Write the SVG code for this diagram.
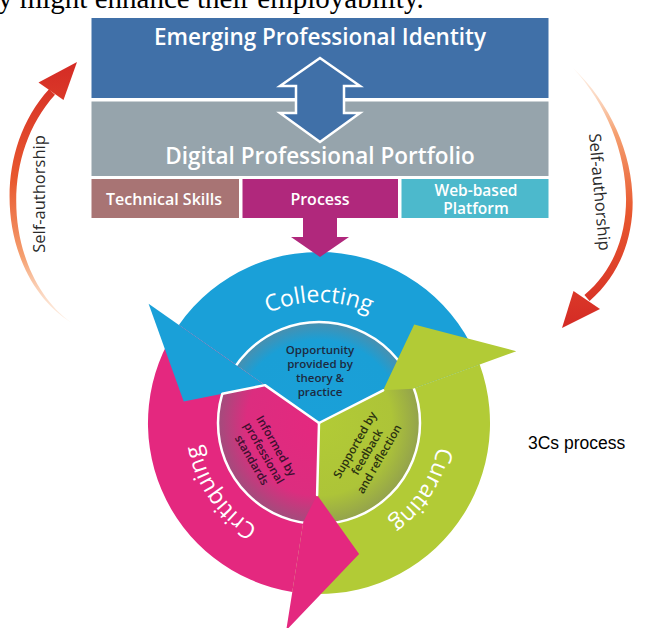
<svg xmlns="http://www.w3.org/2000/svg" width="657" height="628" viewBox="0 0 657 628">
<defs>
<style>
.hdr{font-family:"Open Sans","Noto Sans","DejaVu Sans",sans-serif;fill:#fff;text-anchor:middle}
.big{font-size:22.5px;font-weight:600}
.sub{font-size:16px;font-weight:600}
.sub2{font-size:15.5px;font-weight:600}
.ring{font-family:"Open Sans","Noto Sans",sans-serif;font-size:23px;fill:#fff}
.inner{font-family:"Open Sans","Noto Sans",sans-serif;font-size:11.5px;font-weight:600;text-anchor:middle}
.side{font-family:"Open Sans","Noto Sans",sans-serif;font-size:16.5px;fill:#2a2a2a;text-anchor:middle}
.div{fill:none;stroke:#fff;stroke-width:2.5;stroke-linejoin:round;stroke-linecap:round}
</style>
<radialGradient id="gBlue" gradientUnits="userSpaceOnUse" cx="319" cy="423" r="101">
<stop offset="0" stop-color="#1aa0d8"/><stop offset="0.82" stop-color="#1a9fd6"/><stop offset="1" stop-color="#4a8fae"/>
</radialGradient>
<radialGradient id="gPink" gradientUnits="userSpaceOnUse" cx="319" cy="423" r="101">
<stop offset="0" stop-color="#e4287f"/><stop offset="0.72" stop-color="#dc2d7f"/><stop offset="1" stop-color="#a24c7c"/>
</radialGradient>
<radialGradient id="gGreen" gradientUnits="userSpaceOnUse" cx="319" cy="423" r="101">
<stop offset="0" stop-color="#b2cb36"/><stop offset="0.72" stop-color="#adc438"/><stop offset="1" stop-color="#93a24c"/>
</radialGradient>
<linearGradient id="gL" gradientUnits="userSpaceOnUse" x1="0" y1="323" x2="0" y2="62">
<stop offset="0" stop-color="#fbd9bf" stop-opacity="0.35"/><stop offset="0.25" stop-color="#f5a070"/><stop offset="0.55" stop-color="#e8582f"/><stop offset="1" stop-color="#d42a25"/>
</linearGradient>
<linearGradient id="gR" gradientUnits="userSpaceOnUse" x1="0" y1="68" x2="0" y2="328">
<stop offset="0" stop-color="#fbd9bf" stop-opacity="0.35"/><stop offset="0.25" stop-color="#f5a070"/><stop offset="0.55" stop-color="#e8582f"/><stop offset="1" stop-color="#d42a25"/>
</linearGradient>
<path id="pCollect" d="M 198,423 A 121 121 0 0 1 440,423"/>
<path id="pCrit" d="M 329.55,543.54 A 121 121 0 0 1 209.34,371.86"/>
<path id="pCur" d="M 426.81,368.07 A 121 121 0 0 1 312.67,543.83"/>
</defs>

<text x="-2" y="8" font-family="'Liberation Serif','Times New Roman',serif" font-size="29" fill="#000">y might enhance their employability.</text>

<g id="emerging-professional-identity">
<rect x="91.5" y="18" width="457" height="80" fill="#4070a8"/>
<text class="hdr big" x="320" y="45">Emerging Professional Identity</text>
</g>
<g id="digital-professional-portfolio">
<rect x="91.5" y="101.5" width="457" height="74.5" fill="#96a4ac"/>
<text class="hdr big" x="320" y="164">Digital Professional Portfolio</text>
</g>
<g id="technical-skills">
<rect x="91.5" y="179" width="147.5" height="39" fill="#a87474"/>
<text class="hdr sub" x="164" y="205">Technical Skills</text>
</g>
<g id="process">
<rect x="242.5" y="179" width="155.5" height="39" fill="#b0287c"/>
<text class="hdr sub" x="320" y="205">Process</text>
</g>
<g id="web-based-platform">
<rect x="401.5" y="179" width="147" height="39" fill="#4cb9cc"/>
<text class="hdr sub2" x="476" y="195.5">Web-based</text>
<text class="hdr sub2" x="476" y="213.5">Platform</text>
</g>

<g id="cycle">
<g id="bands">
<path id="collecting-band" d="M 178.9,324.9 A 171 171 0 0 1 479.7,364.5 L 411.1,389.5 A 98 98 0 0 0 238.7,366.8 Z" fill="#1aa0d8"/>
<path id="curating-band" d="M 479.7,364.5 A 171 171 0 0 1 292.3,591.9 L 303.7,519.8 A 98 98 0 0 0 411.1,389.5 Z" fill="#b2cb36"/>
<path id="critiquing-band" d="M 292.3,591.9 A 171 171 0 0 1 178.9,324.9 L 238.7,366.8 A 98 98 0 0 0 303.7,519.8 Z" fill="#e4287f"/>
</g>
<g id="inner-disc">
<path d="M 319,423 L 236.27,365.07 A 101 101 0 0 1 408.99,377.15 Z" fill="url(#gBlue)"/>
<path d="M 319,423 L 408.99,377.15 A 101 101 0 0 1 316.36,523.97 Z" fill="url(#gGreen)"/>
<path d="M 319,423 L 316.36,523.97 A 101 101 0 0 1 236.27,365.07 Z" fill="url(#gPink)"/>
<circle cx="319" cy="423" r="101" fill="none" stroke="#fff" stroke-width="2.5"/>
</g>
<g id="heads">
<polygon points="148.6,303.7 183.7,401.6 264.94,385.14" fill="#1aa0d8"/>
<polygon points="516.3,351.2 414.2,324.5 383.15,390.3 412.97,388.8 479.7,364.5" fill="#b2cb36"/>
<polygon points="286.2,630.4 359.1,554 317.12,494.98 303.36,521.77 292.3,591.9" fill="#e4287f"/>
</g>
<g id="dividers">
<polyline class="div" points="319,423 264.94,385.14 222.3,393.8"/>
<line class="div" x1="319" y1="423" x2="383.15" y2="390.3"/>
<line class="div" x1="319" y1="423" x2="317.12" y2="494.98"/>
</g>
<g id="collecting">
<text class="ring"><textPath href="#pCollect" startOffset="50%" text-anchor="middle">Collecting</textPath></text>
<g class="inner" fill="#1d2a3f">
<text x="320" y="354">Opportunity</text>
<text x="320" y="368">provided by</text>
<text x="320" y="382">theory &amp;</text>
<text x="320" y="396">practice</text>
</g>
</g>
<g id="critiquing">
<text class="ring"><textPath href="#pCrit" startOffset="50%" text-anchor="middle">Critiquing</textPath></text>
<g class="inner" fill="#3d0f2f" transform="translate(264,453) rotate(60)">
<text x="0" y="-10">Informed by</text>
<text x="0" y="4">professional</text>
<text x="0" y="18">standards</text>
</g>
</g>
<g id="curating">
<text class="ring"><textPath href="#pCur" startOffset="50%" text-anchor="middle">Curating</textPath></text>
<g class="inner" fill="#2b3210" transform="translate(367,452) rotate(-60)">
<text x="0" y="-10">Supported by</text>
<text x="0" y="4">feedback</text>
<text x="0" y="18">and reflection</text>
</g>
</g>
</g>

<g id="connectors">
<path id="identity-portfolio-arrow" d="M 320,58 L 360,86 L 344,86 L 344,113 L 360,113 L 320,142 L 280,113 L 296,113 L 296,86 L 280,86 Z" fill="#4070a8" stroke="#fff" stroke-width="2.5" stroke-linejoin="miter"/>
<polygon id="process-arrow" points="303,217 337,217 337,237 349,237 320,257 291,237 303,237" fill="#b0287c"/>
<g id="self-authorship-left">
<path d="M 72,323 C 2,281 -14,158 49,89.3 L 55,94.7 C -6,162 9,279 72,323 Z" fill="url(#gL)"/>
<polygon points="77,62 38.5,82.5 63.5,100" fill="url(#gL)"/>
</g>
<g id="self-authorship-right">
<path d="M 573,68 C 638,129 659,240 589.6,301 L 584.4,295 C 650,240 632,131 573,68 Z" fill="url(#gR)"/>
<polygon points="562,328 573.5,291 600,309" fill="url(#gR)"/>
</g>
</g>

<g id="labels">
<text class="side" transform="translate(40,194) rotate(-90)" y="5">Self-authorship</text>
<text class="side" transform="translate(599,192) rotate(85)" y="5">Self-authorship</text>
<text x="528" y="449" font-family="'Liberation Sans',Arial,sans-serif" font-size="17.5" fill="#000">3Cs process</text>
</g>
</svg>
